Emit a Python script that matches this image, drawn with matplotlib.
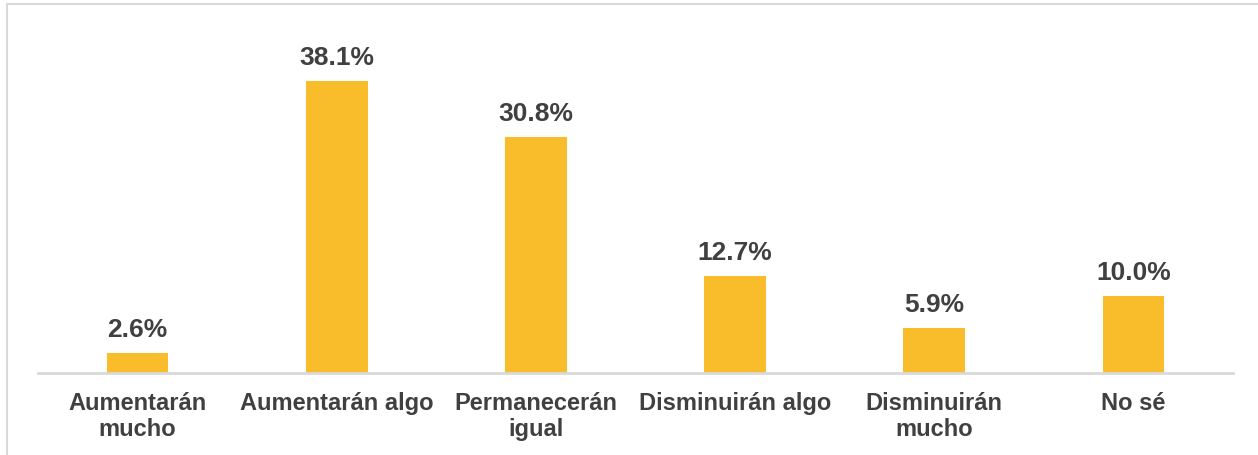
import matplotlib.pyplot as plt
from matplotlib.lines import Line2D

categories = ["Aumentarán\nmucho", "Aumentarán algo", "Permanecerán\nigual",
              "Disminuirán algo", "Disminuirán\nmucho", "No sé"]
values = [2.6, 38.1, 30.8, 12.7, 5.9, 10.0]
labels = ["2.6%", "38.1%", "30.8%", "12.7%", "5.9%", "10.0%"]

plt.rcParams['font.family'] = ['Liberation Sans', 'DejaVu Sans']

W, H = 1258, 455
fig = plt.figure(figsize=(W / 100, H / 100), dpi=100)
ax = fig.add_axes([38 / W, (H - 373) / H, (1233 - 38) / W, 345 / H])

x = range(len(values))
ax.bar(x, values, width=0.31, color="#F9BC2A", zorder=2)
for xi, v, lab in zip(x, values, labels):
    ax.annotate(lab, (xi, v), xytext=(0, 8), textcoords="offset points",
                ha="center", va="bottom", fontsize=19, fontweight="bold",
                color="#404040")

ax.set_xlim(-0.5, 5.5)
ax.set_ylim(0, 45)
ax.set_yticks([])
ax.set_xticks(list(x))
ax.set_xticklabels(categories, fontsize=17, fontweight="bold", color="#404040",
                   linespacing=1.15)
ax.tick_params(axis="x", length=0, pad=14)
for s in ["top", "right", "left"]:
    ax.spines[s].set_visible(False)
ax.spines["bottom"].set_color("#d9d9d9")
ax.spines["bottom"].set_linewidth(2)

# chart frame
fig.add_artist(Line2D([7 / W, 1], [1 - 4 / H, 1 - 4 / H], color="#d9d9d9", lw=1.5))
fig.add_artist(Line2D([7 / W, 7 / W], [0, 1 - 4 / H], color="#d9d9d9", lw=1.5))

fig.savefig("out.png", dpi=100)
